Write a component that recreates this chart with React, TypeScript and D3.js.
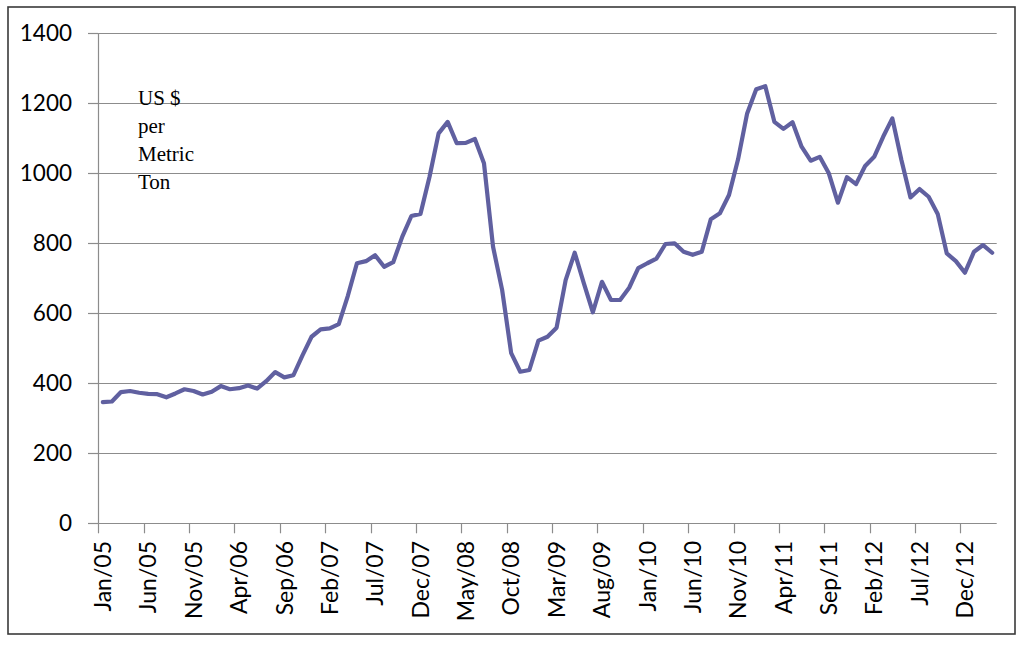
import React from "react";
import * as d3 from "d3";

// Monthly prices, Jan/05 .. Mar/13 (US $ per metric ton)
const startMonth = "2005-01";
const prices: number[] = [
  346, 348, 375, 378, 373, 370, 369, 360, 371, 383, 378, 368,
  376, 392, 383, 386, 394, 385, 406, 432, 417, 423, 480, 533,
  554, 557, 569, 650, 743, 749, 766, 733, 746, 819, 878, 884,
  990, 1114, 1147, 1086, 1087, 1098, 1029, 790, 667, 486, 433, 438,
  522, 533, 559, 695, 773, 686, 603, 690, 638, 638, 673, 729,
  743, 756, 798, 800, 776, 767, 776, 869, 886, 938, 1040, 1171,
  1240, 1249, 1147, 1127, 1146, 1076, 1036, 1047, 1000, 916, 989, 969,
  1021, 1047, 1105, 1157, 1038, 931, 955, 933, 884, 771, 749, 716,
  776, 795, 773,
];
const tickLabels: string[] = [
  "Jan/05", "Jun/05", "Nov/05", "Apr/06", "Sep/06", "Feb/07", "Jul/07",
  "Dec/07", "May/08", "Oct/08", "Mar/09", "Aug/09", "Jan/10", "Jun/10",
  "Nov/10", "Apr/11", "Sep/11", "Feb/12", "Jul/12", "Dec/12",
];
const labelEvery = 5;
const yTicks: number[] = [0, 200, 400, 600, 800, 1000, 1200, 1400];
const unitLines: string[] = ["US $", "per", "Metric", "Ton"];

const W = 1024;
const H = 647;
const left = 98.3;
const right = 996.7;
const top = 33.3;
const bottom = 523.3;

export default function App() {
  const start = d3.timeParse("%Y-%m")(startMonth)!;
  const months = d3.timeMonth.range(start, d3.timeMonth.offset(start, prices.length));
  const x = d3.scaleLinear().domain([0, months.length]).range([left, right]);
  const y = d3.scaleLinear().domain([0, 1400]).range([bottom, top]);
  const line = d3
    .line<number>()
    .x((_, i) => x(i + 0.5))
    .y((d) => y(d))
    .curve(d3.curveLinear);

  const gridColor = "#8c8c8c";
  const labelFont = "Lato, 'Open Sans', sans-serif";

  return (
    <svg
      width={W}
      height={H}
      style={{ position: "absolute", left: 0, top: 0, background: "#fff" }}
    >
      <rect x={0} y={0} width={W} height={H} fill="#fff" />
      <rect
        x={8}
        y={7}
        width={1007}
        height={627}
        fill="#fff"
        stroke="#3a3a3a"
        strokeWidth={1.6}
      />
      {yTicks.map((t) => (
        <g key={t}>
          <line
            x1={left}
            x2={right}
            y1={Math.round(y(t)) + 0.5}
            y2={Math.round(y(t)) + 0.5}
            stroke={gridColor}
            strokeWidth={1.2}
          />
          <line
            x1={88}
            x2={left}
            y1={Math.round(y(t)) + 0.5}
            y2={Math.round(y(t)) + 0.5}
            stroke={gridColor}
            strokeWidth={1.2}
          />
          <text
            x={72}
            y={y(t)}
            dy="0.36em"
            textAnchor="end"
            fontFamily={labelFont}
            fontSize={22.5}
            fill="#000"
          >
            {t}
          </text>
        </g>
      ))}
      <line
        x1={Math.round(left) + 0.5}
        x2={Math.round(left) + 0.5}
        y1={top}
        y2={bottom}
        stroke={gridColor}
        strokeWidth={1.2}
      />
      {tickLabels.map((lab, k) => {
        const i = k * labelEvery;
        const tx = Math.round(x(i)) + 0.5;
        const lx = x(i + 0.5);
        return (
          <g key={lab}>
            <line
              x1={tx}
              x2={tx}
              y1={bottom}
              y2={bottom + 10}
              stroke={gridColor}
              strokeWidth={1.2}
            />
            <text
              transform={`translate(${lx},${541}) rotate(-90)`}
              dy="0.36em"
              textAnchor="end"
              fontFamily={labelFont}
              fontSize={23}
              fill="#000"
            >
              {lab}
            </text>
          </g>
        );
      })}
      {unitLines.map((s, i) => (
        <text
          key={s}
          x={138}
          y={105 + i * 28}
          fontFamily="'Liberation Serif', 'Times New Roman', serif"
          fontSize={21}
          fill="#000"
        >
          {s}
        </text>
      ))}
      <path
        d={line(prices) || ""}
        fill="none"
        stroke="#6060a0"
        strokeWidth={4.2}
        strokeLinejoin="round"
        strokeLinecap="round"
      />
    </svg>
  );
}
